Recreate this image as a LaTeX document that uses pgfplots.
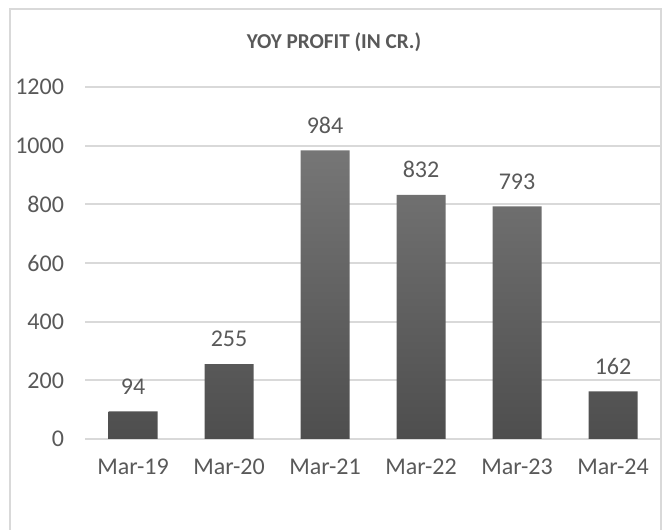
\documentclass[border=0pt]{standalone}
\usepackage{pgfplots}
\pgfplotsset{compat=1.18}
\usepackage{fontspec}
\setmainfont{Carlito}
\definecolor{gridc}{HTML}{D9D9D9}
\definecolor{txt}{HTML}{595959}
\definecolor{bartop}{HTML}{767676}
\definecolor{barbot}{HTML}{4E4E4E}
\begin{document}
\begin{tikzpicture}[x=1pt,y=1pt]
\useasboundingbox (0,0) rectangle (331,264.5);
\draw[gridc, line width=0.9pt] (5,-2) -- (5,260) -- (330.5,260) -- (330.5,-2);
\node[font=\fontsize{10.6}{12}\selectfont\bfseries, text=txt] at (167,243.5) {YOY PROFIT (IN CR.)};
\begin{axis}[
  at={(42.5pt,45pt)}, anchor=south west,
  scale only axis, width=288pt, height=176pt,
  xmin=-0.5, xmax=5.5, ymin=0, ymax=1200,
  ytick={0,200,...,1200},
  xtick={0,...,5},
  xticklabels={Mar-19,Mar-20,Mar-21,Mar-22,Mar-23,Mar-24},
  axis line style={draw=none},
  axis x line*=bottom,
  axis y line*=left,
  major tick length=0pt,
  ymajorgrids, grid style={gridc, line width=0.9pt},
  /pgf/number format/assume math mode=true,
  /pgf/number format/1000 sep={},
  ticklabel style={font=\fontsize{12}{14}\selectfont, text=txt},
  yticklabel style={anchor=east, xshift=-7pt},
  xticklabel style={anchor=north, yshift=-6.5pt},
  clip=false,
]
\addplot[ybar, bar width=24.5pt, draw=none, top color=bartop, bottom color=barbot,
  nodes near coords, every node near coord/.append style={font=\fontsize{12}{14}\selectfont, text=txt, anchor=south, yshift=5pt}]
  coordinates {(0,94) (1,255) (2,984) (3,832) (4,793) (5,162)};
\end{axis}
\end{tikzpicture}
\end{document}
